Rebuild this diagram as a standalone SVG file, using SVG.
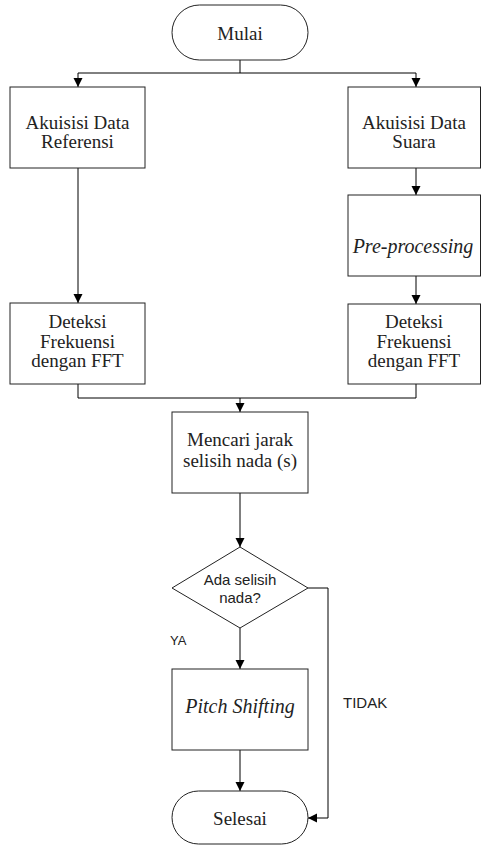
<svg xmlns="http://www.w3.org/2000/svg" width="481" height="845" viewBox="0 0 481 845">
<defs>
<style>
.shape{fill:#fff;stroke:#222;stroke-width:1}
.ln{fill:none;stroke:#000;stroke-width:1}
.t{font-family:'Liberation Serif','Times New Roman','DejaVu Serif',serif;font-size:19px;fill:#222;text-anchor:middle}
.i{font-style:italic;font-size:20px}
.s{font-family:'Liberation Sans',Arial,sans-serif;fill:#222}
</style>
<marker id="ah" markerUnits="userSpaceOnUse" markerWidth="9" markerHeight="10" refX="9" refY="4.5" orient="auto">
<path d="M0,0 L9,4.5 L0,9 z" fill="#000"/>
</marker>
</defs>
<rect width="481" height="845" fill="#fff"/>
<g id="connectors">
<path class="ln" d="M240,60 V73"/>
<path class="ln" d="M240,73 H78 V87" marker-end="url(#ah)"/>
<path class="ln" d="M240,73 H416 V87" marker-end="url(#ah)"/>
<path class="ln" d="M78,168 V303" marker-end="url(#ah)"/>
<path class="ln" d="M416,168 V195" marker-end="url(#ah)"/>
<path class="ln" d="M416,276 V304" marker-end="url(#ah)"/>
<path class="ln" d="M78,384 V398 H416 V384"/>
<path class="ln" d="M240,398 V412" marker-end="url(#ah)"/>
<path class="ln" d="M240,493 V547" marker-end="url(#ah)"/>
<path class="ln" d="M240,628 V669" marker-end="url(#ah)"/>
<path class="ln" d="M240,750 V791" marker-end="url(#ah)"/>
<path class="ln" d="M308,588 H328 V818 H308" marker-end="url(#ah)"/>
<text class="s" x="170" y="645" font-size="13">YA</text>
<text class="s" x="343" y="708" font-size="15">TIDAK</text>
</g>
<g id="mulai">
<rect class="shape" x="172" y="5" width="136" height="55" rx="27.5"/>
<text class="t" x="240" y="40">Mulai</text>
</g>
<g id="akuisisi-referensi">
<rect class="shape" x="10" y="87" width="135" height="81"/>
<text class="t" x="77.5" y="129">Akuisisi Data</text>
<text class="t" x="77.5" y="148">Referensi</text>
</g>
<g id="akuisisi-suara">
<rect class="shape" x="348" y="87" width="132.5" height="81"/>
<text class="t" x="414" y="129">Akuisisi Data</text>
<text class="t" x="414" y="148">Suara</text>
</g>
<g id="preprocessing">
<rect class="shape" x="348" y="195" width="132.5" height="81"/>
<text class="t i" x="413" y="253">Pre-processing</text>
</g>
<g id="deteksi-kiri">
<rect class="shape" x="10" y="303" width="135" height="81"/>
<text class="t" x="77.5" y="328">Deteksi</text>
<text class="t" x="77.5" y="348">Frekuensi</text>
<text class="t" x="77.5" y="367">dengan FFT</text>
</g>
<g id="deteksi-kanan">
<rect class="shape" x="348" y="304" width="132.5" height="80"/>
<text class="t" x="414" y="328">Deteksi</text>
<text class="t" x="414" y="348">Frekuensi</text>
<text class="t" x="414" y="367">dengan FFT</text>
</g>
<g id="mencari">
<rect class="shape" x="172" y="412" width="136" height="81"/>
<text class="t" x="240" y="446">Mencari jarak</text>
<text class="t" x="240" y="467">selisih nada (s)</text>
</g>
<g id="keputusan">
<polygon class="shape" points="240,547 308,588 240,628 172,588"/>
<text class="s" x="240" y="585" font-size="15" text-anchor="middle">Ada selisih</text>
<text class="s" x="240" y="603" font-size="15" text-anchor="middle">nada?</text>
</g>
<g id="pitch-shifting">
<rect class="shape" x="172" y="669" width="136" height="81"/>
<text class="t i" x="240" y="713">Pitch Shifting</text>
</g>
<g id="selesai">
<rect class="shape" x="172" y="791" width="136" height="53" rx="26.5"/>
<text class="t" x="240" y="825">Selesai</text>
</g>
</svg>
